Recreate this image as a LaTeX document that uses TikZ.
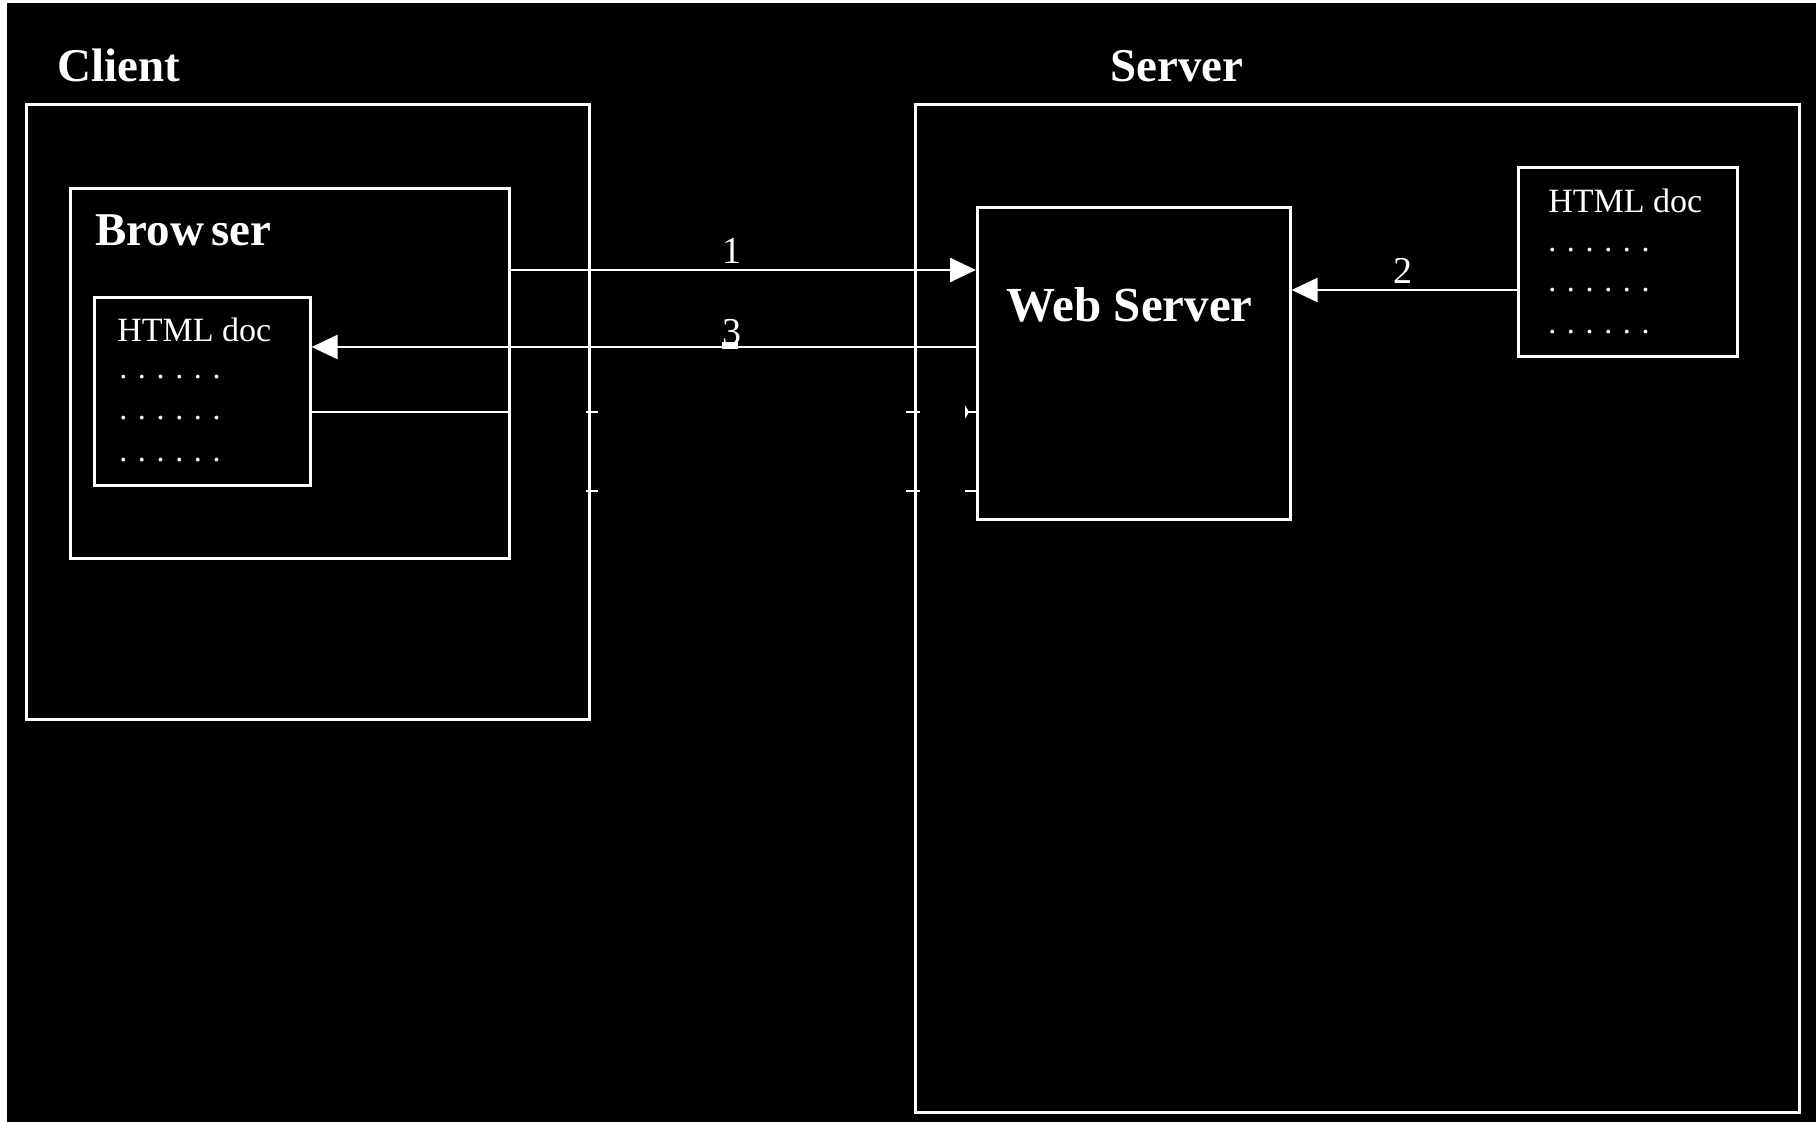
\documentclass[tikz,border=0pt]{standalone}
\usepackage{fontspec}
\setmainfont{Liberation Serif}
\usetikzlibrary{arrows.meta}

\begin{document}
\begin{tikzpicture}[x=1pt,y=-1pt,
  line width=2.6pt,
  box/.style={draw=white,rectangle,inner sep=0pt,anchor=north west},
  title/.style={text=white,font=\bfseries\fontsize{47}{50}\selectfont,anchor=base west,inner sep=0pt},
  doctitle/.style={text=white,font=\fontsize{34}{36}\selectfont,anchor=base west,inner sep=0pt},
  dotrow/.style={text=white,font=\fontsize{32}{32}\selectfont,anchor=base west,inner sep=0pt},
  num/.style={text=white,font=\fontsize{38}{40}\selectfont,anchor=base,inner sep=0pt},
  link/.style={draw=white,line width=2.6pt},
  arr/.style={link,-{Triangle[length=26pt,width=24pt]}},
  stub/.style={draw=white,line width=2.6pt}
]
\useasboundingbox (0,0) rectangle (1816,1122);
% page background
\fill[white] (0,0) rectangle (1816,1122);
\fill[black] (7,3) rectangle (1816,1122);

% outer groups
\node[box,minimum width=563pt,minimum height=615pt] (client) at (25,103) {};
\node[box,minimum width=884pt,minimum height=1008pt] (server) at (914,103) {};
\node[title] (clientlbl) at (56,81) {Client};
\node[title] (serverlbl) at (1109,81) {Server};

% browser with its document
\node[box,minimum width=439pt,minimum height=370pt] (browser) at (69,187) {};
\node[title,font=\bfseries\fontsize{47}{48}\selectfont] (browserlbl) at (94,245) {Brow\hspace{7pt}ser};
\node[box,minimum width=216pt,minimum height=188pt] (doc1) at (93,296) {};
\node[doctitle] (doc1lbl) at (116,341) {HTML doc};
\node[dotrow] (doc1r1) at (118,378) {. . . . . .};
\node[dotrow] (doc1r2) at (118,419) {. . . . . .};
\node[dotrow] (doc1r3) at (118,461) {. . . . . .};

% web server
\node[box,minimum width=313pt,minimum height=312pt] (ws) at (976,206) {};
\node[title,font=\bfseries\fontsize{49}{50}\selectfont] (wslbl) at (1005,321) {Web Server};

% server-side document
\node[box,minimum width=219pt,minimum height=189pt] (doc2) at (1517,166) {};
\node[doctitle] (doc2lbl) at (1547,212) {HTML doc};
\node[dotrow] (doc2r1) at (1547,251) {. . . . . .};
\node[dotrow] (doc2r2) at (1547,291) {. . . . . .};
\node[dotrow] (doc2r3) at (1547,333) {. . . . . .};

% request / response connectors
\draw[arr] ([yshift=-83pt]browser.north east) -- ([yshift=-64pt]ws.north west);
\node[num] (n1) at (732,263) {1};
\draw[arr] ([yshift=-124pt]doc2.north west) -- ([yshift=-84pt]ws.north east);
\node[num] (n2) at (1403,283) {2};
\draw[arr] ([yshift=-141pt]ws.north west) -- ([yshift=-51pt]doc1.north east);
\node[num] (n3) at (732,344) {3};
\fill[white] (722,342) rectangle (738,349);
\draw[link] ([yshift=-116pt]doc1.north east) -- ([yshift=-225pt]browser.north east);

% leftover stubs along the boxes
\foreach \yy in {412,491} {
  \draw[stub] (586,\yy) -- (598,\yy);
  \draw[stub] (906,\yy) -- (920,\yy);
  \draw[stub] (965,\yy) -- (976,\yy);
}
\fill[white] (965,405) -- (969,412) -- (965,419) -- cycle;
\end{tikzpicture}
\end{document}
